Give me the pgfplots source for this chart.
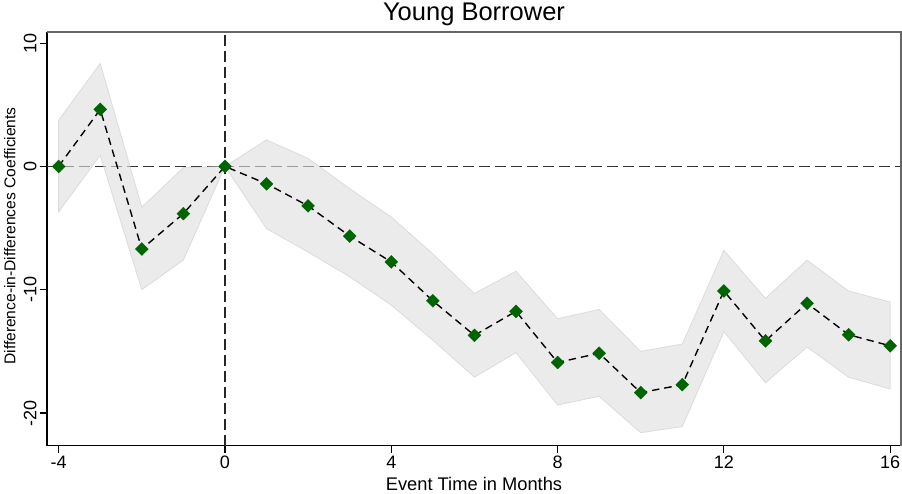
\documentclass[border=0pt]{standalone}
\usepackage{pgfplots}
\pgfplotsset{compat=1.18}
\usepackage{fontspec}
\setmainfont{Liberation Sans}
\definecolor{mkgreen}{RGB}{0,100,0}
\begin{document}
\begin{tikzpicture}
\useasboundingbox (0,0) rectangle (902pt,493pt);
\begin{axis}[
  at={(47pt,47.3pt)}, anchor=south west,
  scale only axis, width=854pt, height=413.7pt,
  xmin=-4.28, xmax=16.26, ymin=-22.65, ymax=10.9,
  axis x line*=bottom, axis y line*=left,
  axis line style={line width=1.4pt, -},
  xtick={-4,0,4,8,12,16}, xticklabels={-4,0,4,8,12,16},
  ytick={-20,-10,0,10}, yticklabels={-20,-10,0,10},
  tick align=outside, major tick length=7pt,
  tick style={black, line width=1.1pt},
  xticklabel style={font=\fontsize{18}{18}\selectfont},
  yticklabel style={font=\fontsize{18}{18}\selectfont, rotate=90, anchor=south},
  every axis title/.style={at={(0.5,1)}, anchor=base, yshift=11pt},
  title style={font=\fontsize{25.5}{25.5}\selectfont},
  title={Young Borrower},
  every axis x label/.style={at={(0.5,0)}, anchor=base, yshift=-44.3pt},
  xlabel style={font=\fontsize{18.3}{18.3}\selectfont},
  xlabel={Event Time in Months},
  every axis y label/.style={at={(0,0.507)}, xshift=-31.5pt, rotate=90, anchor=base},
  ylabel style={font=\fontsize{15.6}{15.6}\selectfont},
  ylabel={Difference-in-Differences Coefficients},
  clip=false,
]
% reference lines
\addplot[black!80, line width=1.6pt, dash pattern=on 10.7pt off 5.3pt] coordinates {(-4.28,0) (16.26,0)};
\addplot[black!85, line width=1.6pt, dash pattern=on 10.7pt off 5.3pt] coordinates {(0,-22.65) (0,10.9)};
% confidence band
\addplot[fill=black!13, fill opacity=0.6, draw=black!20, draw opacity=0.6, line width=0.8pt] coordinates {
 (-4,3.75) (-3,8.35) (-2,-3.3) (-1,-0.1) (0,0) (1,2.15) (2,0.65) (3,-1.8) (4,-4.1) (5,-7.1)
 (6,-10.3) (7,-8.5) (8,-12.35) (9,-11.6) (10,-15.0) (11,-14.4) (12,-6.8) (13,-10.7) (14,-7.6)
 (15,-10.1) (16,-11.0)
 (16,-18.05) (15,-17.1) (14,-14.65) (13,-17.55) (12,-13.4) (11,-21.1) (10,-21.6) (9,-18.65)
 (8,-19.35) (7,-15.1) (6,-17.1) (5,-14.1) (4,-11.25) (3,-8.95) (2,-6.95) (1,-5.05) (0,0)
 (-1,-7.6) (-2,-10.0) (-3,0.9) (-4,-3.7)
} -- cycle;
% coefficients
\addplot[black, line width=1.4pt, dash pattern=on 7.5pt off 5pt,
  mark=square*, mark size=4.6pt,
  mark options={solid, fill=mkgreen, draw=mkgreen, rotate=45, line width=0.3pt}] coordinates {
 (-4,0) (-3,4.62) (-2,-6.7) (-1,-3.83) (0,0) (1,-1.41) (2,-3.2) (3,-5.65) (4,-7.75) (5,-10.9)
 (6,-13.7) (7,-11.75) (8,-15.9) (9,-15.15) (10,-18.35) (11,-17.7) (12,-10.1) (13,-14.15)
 (14,-11.1) (15,-13.65) (16,-14.55)
};
% top and right frame
\draw[black!60, line width=1.4pt] (rel axis cs:0,1) -- (rel axis cs:1,1) -- (rel axis cs:1,0);
\end{axis}
\end{tikzpicture}
\end{document}
